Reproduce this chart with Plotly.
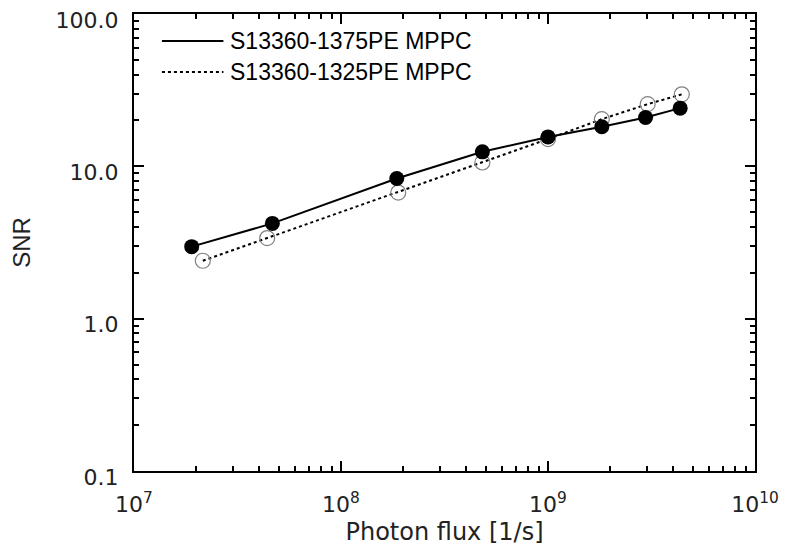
'''
SNR vs photon flux for two MPPC models, log-log
'''

import plotly.graph_objects as go

# photon flux [1/s] and SNR
flux_1375 = [1.9e7, 4.66e7, 1.86e8, 4.82e8, 1.0e9, 1.82e9, 2.96e9, 4.35e9]
snr_1375 = [2.97, 4.22, 8.32, 12.45, 15.6, 18.2, 20.9, 24.1]

flux_1325 = [2.15e7, 4.4e7, 1.89e8, 4.82e8, 1.0e9, 1.82e9, 3.03e9, 4.43e9]
snr_1325 = [2.40, 3.38, 6.73, 10.6, 15.1, 20.4, 25.6, 29.7]

name_1375 = 'S13360-1375PE MPPC'
name_1325 = 'S13360-1325PE MPPC'

x_tickvals = [1e7, 1e8, 1e9, 1e10]
x_ticktext = ['10<sup>7</sup>', '10<sup>8</sup>', '10<sup>9</sup>', '10<sup>10</sup>']
y_tickvals = [0.1, 1, 10, 100]
y_ticktext = ['0.1', '1.0', '10.0', '100.0']

x_minor = [k * 10 ** e for e in range(7, 10) for k in range(2, 10)]
y_minor = [k * 10 ** e for e in range(-1, 2) for k in range(2, 10)]

tick_font = dict(family='DejaVu Sans', size=22, color='#222222')

fig = go.Figure()

#### open circles, dotted line (drawn first so the filled ones sit on top)
fig.add_trace(go.Scatter(x=flux_1325, y=snr_1325, name=name_1325, mode='lines+markers',
                         line=dict(color='black', width=2, dash='dot'),
                         marker=dict(symbol='circle-open', size=15, color='#808080',
                                     line=dict(width=1.2, color='#808080'))))

#### filled circles, solid line
fig.add_trace(go.Scatter(x=flux_1375, y=snr_1375, name=name_1375, mode='lines+markers',
                         line=dict(color='black', width=2),
                         marker=dict(symbol='circle', size=15, color='black')))

#### hand drawn legend (long line samples, no markers)
legend_rows = [(name_1375, 'solid', 0.941), (name_1325, 'dot', 0.873)]
for label, dash, yy in legend_rows:
    fig.add_shape(type='line', xref='paper', yref='paper', x0=0.045, x1=0.144, y0=yy, y1=yy,
                  line=dict(color='black', width=2, dash=dash))
    fig.add_annotation(text=label, xref='paper', yref='paper', x=0.152, y=yy,
                       xanchor='left', yanchor='middle', showarrow=False,
                       font=dict(family='Liberation Sans', size=23, color='black'))

axis_common = dict(type='log', showline=True, linecolor='black', linewidth=2, mirror='ticks',
                   ticks='inside', ticklen=10, tickwidth=1.5, tickcolor='black',
                   showgrid=False, zeroline=False, tickfont=tick_font, automargin=False,
                   ticklabeloverflow='allow')

fig.update_xaxes(range=[7, 10], tickmode='array', tickvals=x_tickvals, ticktext=x_ticktext,
                 ticklabelstandoff=13,
                 minor=dict(tickmode='array', tickvals=x_minor, ticks='inside', ticklen=5,
                            tickwidth=1.5, tickcolor='black', showgrid=False),
                 title=dict(text='Photon flux [1/s]', standoff=12,
                            font=dict(family='DejaVu Sans', size=24, color='#222222')),
                 **axis_common)
fig.update_yaxes(range=[-1, 2], tickmode='array', tickvals=y_tickvals, ticktext=y_ticktext,
                 ticklabelstandoff=9, ticklabelshift=6,
                 minor=dict(tickmode='array', tickvals=y_minor, ticks='inside', ticklen=5,
                            tickwidth=1.5, tickcolor='black', showgrid=False),
                 title=dict(text='SNR', standoff=21,
                            font=dict(family='Liberation Sans', size=24, color='#222222')),
                 **axis_common)

# page body adds an 8px offset, so the figure is 8px smaller than the window
fig.update_layout(width=784, height=538, showlegend=False,
                  plot_bgcolor='white', paper_bgcolor='white',
                  margin=dict(l=126, r=37, t=6, b=75))

fig.write_html('out.html')
